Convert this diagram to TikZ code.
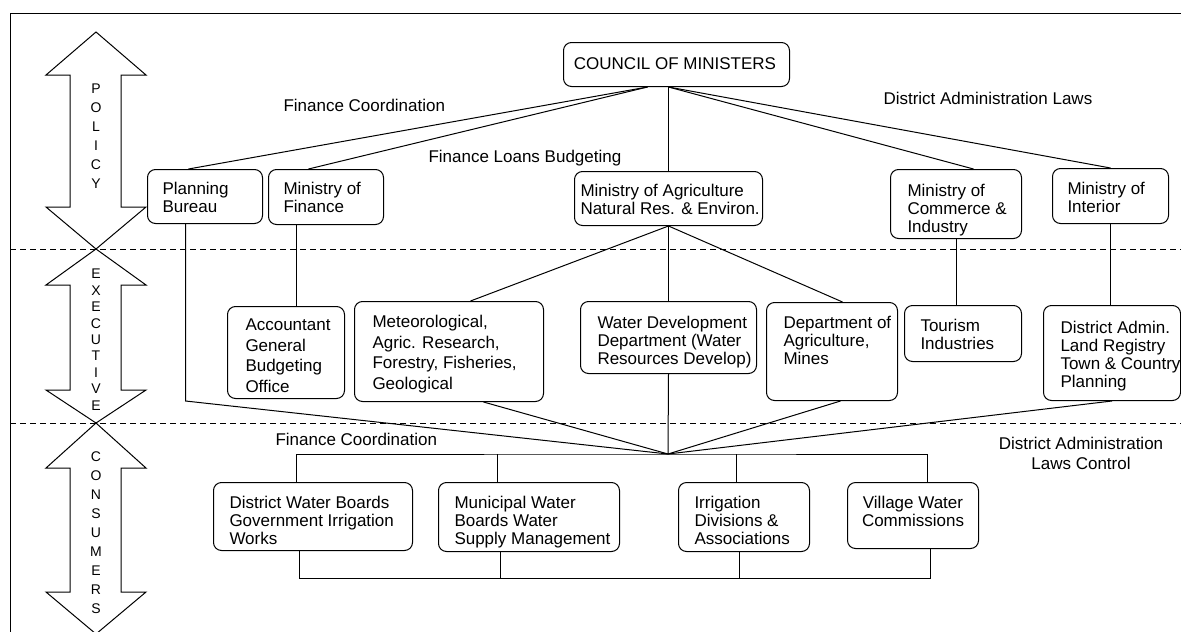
\documentclass[tikz,border=0pt]{standalone}
\usepackage{fontspec}
\setmainfont{Liberation Sans}

\tikzset{
  unit/.style={draw, rounded corners=8pt, inner sep=0pt, anchor=north west},
  utext/.style={anchor=north west, inner sep=0pt, align=left,
    font=\fontsize{17}{18}\selectfont, execute at begin node=\strut},
  remark/.style={inner sep=0pt, font=\fontsize{17}{18}\selectfont},
  letter/.style={inner sep=0pt, font=\fontsize{14}{14}\selectfont},
  level/.style={dash pattern=on 6pt off 4pt}
}

\begin{document}
\begin{tikzpicture}[x=1pt,y=-1pt,line width=1pt]
\useasboundingbox (0,0) rectangle (1181,632);

% frame and level lines
\draw (1181,13) -- (10,13) -- (10,632);
\draw[level] (10,249) -- (1181,249);
\draw[level] (10,423) -- (1181,423);

% level arrows
\draw (96,32) -- (146,75) -- (121,75) -- (121,207) -- (146,207) -- (96,249)
  -- (46,207) -- (70,207) -- (70,75) -- (46,75) -- cycle;
\draw (96,249) -- (146,285) -- (121,285) -- (121,390) -- (146,390) -- (96,423)
  -- (46,390) -- (70,390) -- (70,285) -- (46,285) -- cycle;
\draw (96,423) -- (146,468) -- (121,468) -- (121,592) -- (146,592) -- (96,634)
  -- (46,592) -- (70,592) -- (70,468) -- (46,468) -- cycle;
\foreach \c [count=\i] in {P,O,L,I,C,Y}
  \node[letter] (pol\i) at (96,{89+19*(\i-1)}) {\c};
\foreach \c [count=\i] in {E,X,E,C,U,T,I,V,E}
  \node[letter] (exe\i) at (96,{274+16.4*(\i-1)}) {\c};
\foreach \c [count=\i] in {C,O,N,S,U,M,E,R,S}
  \node[letter] (con\i) at (96,{457+18.9*(\i-1)}) {\c};

% policy
\node[unit, minimum width=226, minimum height=44] (cm) at (563,42) {};
\node[remark] (cmt) at (675,64) {COUNCIL OF MINISTERS};
\node[unit, minimum width=115, minimum height=54] (pb) at (147,169) {};
\node[utext] (pbt) at ([xshift=15pt,yshift=-12.5pt]pb.north west) {Planning\\Bureau};
\node[unit, minimum width=115, minimum height=55] (mf) at (268,169) {};
\node[utext] (mft) at ([xshift=15pt,yshift=-12.5pt]mf.north west) {Ministry of\\Finance};
\node[unit, minimum width=188, minimum height=54] (ma) at (574,171) {};
\node[utext] (mat) at ([xshift=6pt,yshift=-12.5pt]ma.north west) {Ministry of Agriculture\\Natural Res. \& Environ.};
\node[unit, minimum width=131, minimum height=69] (mc) at (890,169) {};
\node[utext] (mct) at ([xshift=17pt,yshift=-14.5pt]mc.north west) {Ministry of\\Commerce \&\\Industry};
\node[unit, minimum width=116, minimum height=55] (mi) at (1052,168) {};
\node[utext] (mit) at ([xshift=15pt,yshift=-13.5pt]mi.north west) {Ministry of\\Interior};

% executive
\node[unit, minimum width=117, minimum height=92] (ag) at (227,306) {};
\node[utext, font=\fontsize{17}{20.5}\selectfont] (agt) at ([xshift=18pt,yshift=-12.75pt]ag.north west) {Accountant\\General\\Budgeting\\Office};
\node[unit, minimum width=189, minimum height=100] (mt) at (354,301) {};
\node[utext, font=\fontsize{17}{20.5}\selectfont] (mtt) at ([xshift=18pt,yshift=-13.75pt]mt.north west) {Meteorological,\\Agric. Research,\\Forestry, Fisheries,\\Geological};
\node[unit, minimum width=176, minimum height=72] (wd) at (580,301) {};
\node[utext] (wdt) at ([xshift=17pt,yshift=-14.5pt]wd.north west) {Water Development\\Department (Water\\Resources Develop)};
\node[unit, minimum width=131, minimum height=98] (da) at (766,302) {};
\node[utext] (dat) at ([xshift=17pt,yshift=-13.5pt]da.north west) {Department of\\Agriculture,\\Mines};
\node[unit, minimum width=117, minimum height=56] (ti) at (904,305) {};
\node[utext] (tit) at ([xshift=16pt,yshift=-13.5pt]ti.north west) {Tourism\\Industries};
\node[unit, minimum width=137, minimum height=95] (dl) at (1043,305) {};
\node[utext] (dlt) at ([xshift=17pt,yshift=-15.5pt]dl.north west) {District Admin.\\Land Registry\\Town \& Country\\Planning};

% consumers
\node[unit, minimum width=199, minimum height=68] (dw) at (213,482) {};
\node[utext] (dwt) at ([xshift=16pt,yshift=-13.5pt]dw.north west) {District Water Boards\\Government Irrigation\\Works};
\node[unit, minimum width=181, minimum height=69] (mw) at (438,482) {};
\node[utext] (mwt) at ([xshift=16pt,yshift=-13.5pt]mw.north west) {Municipal Water\\Boards Water\\Supply Management};
\node[unit, minimum width=131, minimum height=69] (ir) at (678,482) {};
\node[utext] (irt) at ([xshift=16pt,yshift=-13.5pt]ir.north west) {Irrigation\\Divisions \&\\Associations};
\node[unit, minimum width=131, minimum height=66] (vw) at (847,482) {};
\node[utext, anchor=north, align=center] (vwt) at ([yshift=-13.5pt]vw.north) {Village Water\\Commissions};

% line labels
\node[remark, anchor=west] (fc1) at (283,105) {Finance Coordination};
\node[remark, anchor=west] (flb) at (428,158) {Finance Loans Budgeting};
\node[remark, anchor=west] (dal) at (883,98) {District Administration Laws};
\node[remark, anchor=west] (fc2) at (275,439) {Finance Coordination};
\node[remark, align=center, font=\fontsize{17}{20}\selectfont] (dalc) at (1081,453) {District Administration\\Laws Control};

\coordinate (hub) at (668,454);

% council to ministries
\draw ([xshift=-29pt]cm.south) -- ([xshift=-16.5pt]pb.north);
\draw ([xshift=-29pt]cm.south) -- ([xshift=-17.5pt]mf.north);
\draw ([xshift=-8pt]cm.south) -- (ma.north);
\draw ([xshift=-8pt]cm.south) -- ([xshift=17.5pt]mc.north);
\draw ([xshift=-8pt]cm.south) -- (mi.north);

% ministries to departments
\draw ([xshift=-29.5pt]mf.south) -- ([xshift=10.5pt]ag.north);
\draw (ma.south) -- ([xshift=21.5pt]mt.north);
\draw (ma.south) -- (wd.north);
\draw (ma.south) -- ([xshift=10.5pt]da.north);
\draw (mc.south) -- (mc.south |- ti.north);
\draw (mi.south) -- (mi.south |- dl.north);

% into the hub
\draw ([xshift=-19.5pt]pb.south) -- ++(0,177) -- (hub);
\draw ([xshift=34.5pt]mt.south) -- (hub);
\draw (wd.south) -- (hub);
\draw ([xshift=8.5pt]da.south) -- (hub);
\draw (dl.south) -- (hub);

% consumer buses
\draw ([xshift=-16.5pt]dw.north) |- (hub) -| ([xshift=14.5pt]vw.north);
\draw ([xshift=-31.5pt]mw.north) -- ++(0,-28);
\draw ([xshift=-7.5pt]ir.north) -- ++(0,-28);
\draw ([xshift=-13.5pt]dw.south) -- ++(0,27) -| ([xshift=17.5pt]vw.south);
\draw ([xshift=-28.5pt]mw.south) -- ++(0,26);
\draw ([xshift=-4.5pt]ir.south) -- ++(0,26);
\end{tikzpicture}
\end{document}
